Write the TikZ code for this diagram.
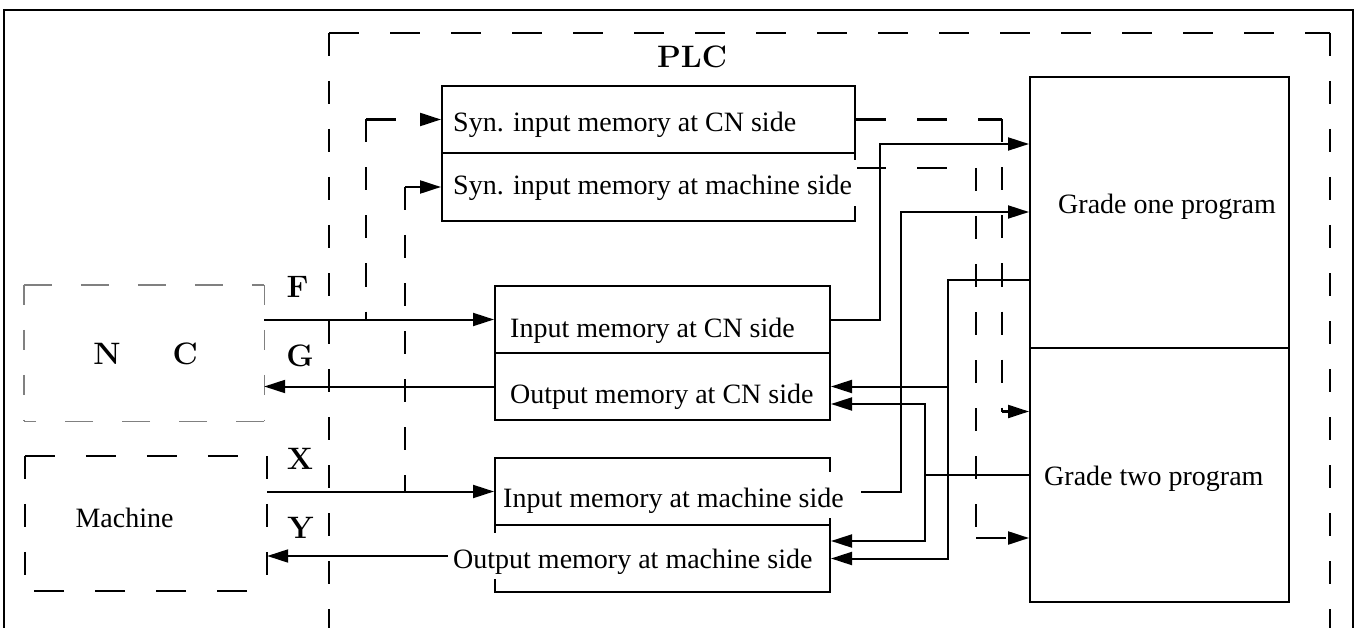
\documentclass[tikz,border=0pt]{standalone}
\usepackage{fontspec}
\newfontfamily\tms{Liberation Serif}
\usetikzlibrary{arrows.meta}
\begin{document}
\begin{tikzpicture}[x=1pt,y=-1pt,
  box/.style={draw, line width=2pt, inner sep=0pt},
  hidden/.style={inner sep=0pt},
  lbl/.style={font=\tms\fontsize{28}{30}\selectfont, inner xsep=5pt, inner ysep=5pt,
              text height=30pt, text depth=6pt, fill=white, anchor=base west},
  plain/.style={font=\tms\fontsize{28}{30}\selectfont, inner sep=0pt, anchor=base},
  bl/.style={font=\bfseries\fontsize{31}{33}\selectfont, inner sep=0pt, anchor=base},
  ln/.style={line width=2pt},
  arr/.style={ln, -{Triangle[length=21pt,width=13pt]}},
  hd/.style={line width=2.2pt, dash pattern=on 30pt off 31pt},
  vd/.style={line width=2.2pt, dash pattern=on 23pt off 25pt},
  harr/.style={hd, -{Triangle[length=21pt,width=13pt]}},
  ghd/.style={line width=1.4pt, draw=black!50, dash pattern=on 28pt off 29pt},
  gvd/.style={line width=1.4pt, draw=black!50, dash pattern=on 20pt off 25pt},
]
\useasboundingbox (0,0) rectangle (1359,628);
\fill[white] (0,0) rectangle (1359,628);
\clip (0,0) rectangle (1359,628);

% outer frame
\draw[line width=1.4pt] (4,640) -- (4,10) -- (1353,10) -- (1353,640);

% PLC dashed region
\draw[hd] (329,33) -- (1330,33);
\draw[vd] (329,33) -- (329,640);
\draw[vd] (1330,33) -- (1330,640);
\node[bl] (plc) at (692,68) {PLC};

% boxes
\node[box, minimum width=413pt, minimum height=67pt] (syncn) at (648.5,119.5) {};
\node[box, minimum width=413pt, minimum height=68pt] (synmach) at (648.5,187) {};
\node[box, minimum width=335pt, minimum height=67pt] (incn) at (662.5,319.5) {};
\node[box, minimum width=335pt, minimum height=67pt] (outcn) at (662.5,386.5) {};
\node[box, minimum width=335pt, minimum height=67pt] (inmach) at (662.5,491.5) {};
\node[box, minimum width=335pt, minimum height=67pt] (outmach) at (662.5,558.5) {};
\node[box, minimum width=259pt, minimum height=271pt] (grade1) at (1159.5,212.5) {};
\node[box, minimum width=259pt, minimum height=254pt] (grade2) at (1159.5,475) {};

% NC box (gray dashed)
\node[hidden, minimum width=240pt, minimum height=136pt] (nc) at (144,353) {};
\draw[ghd] (nc.north west) -- (nc.north east);
\draw[ghd] (nc.south east) -- (nc.south west);
\draw[gvd] (nc.north west) -- (nc.south west);
\draw[gvd] (nc.north east) -- (nc.south east);
\node[bl] (nctext) at (145.5,364) {N\hspace{52pt}C};

% Machine box (black dashed)
\node[hidden, minimum width=242pt, minimum height=135pt] (mach) at (146,523.5) {};
\draw[hd, line width=2pt] (mach.north west) -- (mach.north east);
\draw[hd, line width=2pt, dash phase=-20pt] (mach.south east) -- (mach.south west);
\draw[vd, line width=2pt] (mach.north west) -- (mach.south west);
\draw[vd, line width=2pt] (mach.north east) -- (mach.south east);
\node[plain] (machtext) at (124.5,527) {Machine};

% dashed synchronous connectors
\path (syncn.west) ++(-75,0) coordinate (a1);
\draw[vd] (a1) -- (a1 |- incn.west);
\draw[harr] (a1) -- (syncn.west);
\path (synmach.west) ++(-36,0) coordinate (b1);
\draw[vd] (b1) -- (b1 |- inmach.west);
\draw[harr] (b1) -- (synmach.west);

\path (syncn.east) ++(146,0) coordinate (c1);
\path (c1) ++(0,292) coordinate (c2);
\draw[hd] (syncn.east) -- (c1);
\draw[vd] (c1) -- (c2);
\draw[harr] (c2) -- (c2 -| grade2.west);

\path (synmach.north east) ++(0,16) coordinate (d0);
\path (d0) ++(120,0) coordinate (d1);
\path (d1) ++(0,370) coordinate (d2);
\draw[hd] (d0) -- (d1);
\draw[vd] (d1) -- (d2);
\draw[harr] (d2) -- (d2 -| grade2.west);

% solid connectors
\path (incn.east) ++(49,0) coordinate (e1);
\path (grade1.north west) ++(0,68) coordinate (e2);
\draw[arr] (incn.east) -- (e1) |- (e2);

\path (inmach.east) ++(30,0) coordinate (f0);
\path (inmach.east) ++(70,0) coordinate (f1);
\path (grade1.north west) ++(0,136) coordinate (f2);
\draw[arr] (f0) -- (f1) |- (f2);

\path (grade1.north west) ++(0,204) coordinate (g0);
\path (g0) ++(-81,0) coordinate (g1);
\draw[arr] (g0) -- (g1) |- (outmach.east);
\draw[arr] (g1 |- outcn.east) -- (outcn.east);

\path (grade2.west) ++(-104,0) coordinate (h1);
\draw[ln] (grade2.west) -- (h1);
\draw[arr] (h1) |- ([yshift=-17.5pt]outcn.east);
\draw[arr] (h1) |- ([yshift=17.5pt]outmach.east);

% box texts
\node[lbl] (tsyncn) at (448,132) {Syn. input memory at CN side};
\node[lbl] (tsynmach) at (448,195) {Syn. input memory at machine side};
\node[lbl] (tincn) at (505,337) {Input memory at CN side};
\node[lbl] (toutcn) at (505,403) {Output memory at CN side};
\node[lbl] (tinmach) at (498,507) {Input memory at machine side};
\node[lbl] (toutmach) at (448,568) {Output memory at machine side};
\node[lbl] (tg1) at (1053,214) {Grade one program};
\node[lbl] (tg2) at (1039,485) {Grade two program};

% NC / machine interface arrows
\draw[arr] (nc.east |- incn.west) -- (incn.west);
\draw[arr] (outcn.west) -- (nc.east |- outcn.west);
\draw[arr] (mach.east |- inmach.west) -- (inmach.west);
\draw[arr] (toutmach.west) -- (mach.east |- toutmach.west);

\node[bl] (lf) at (297.5,298) {F};
\node[bl] (lg) at (300,366) {G};
\node[bl] (lx) at (300,469) {X};
\node[bl] (ly) at (300.5,538) {Y};
\end{tikzpicture}
\end{document}
